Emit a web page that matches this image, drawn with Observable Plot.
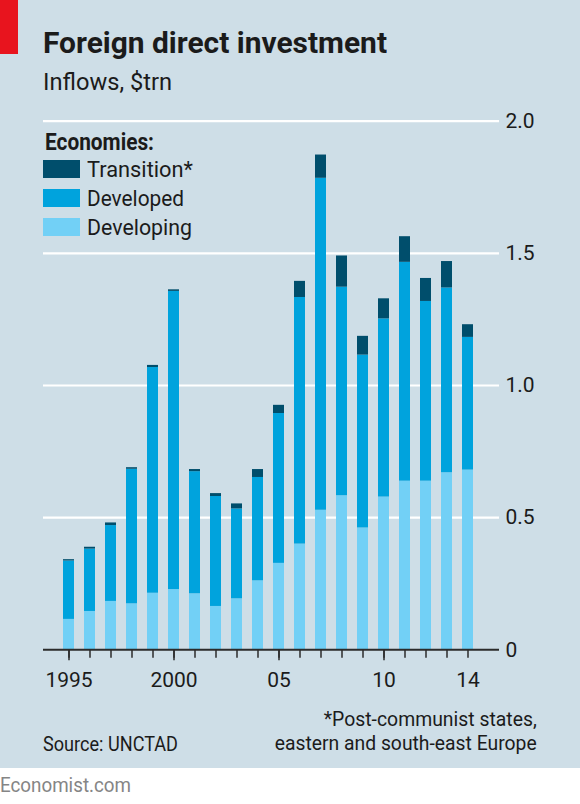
<!DOCTYPE html>
<html>
<head>
<meta charset="utf-8">
<script src="https://cdn.jsdelivr.net/npm/d3@7"></script>
<script src="https://cdn.jsdelivr.net/npm/@observablehq/plot@0.6"></script>
<style>
  html, body { margin: 0; padding: 0; background: #ffffff; }
  #page { position: relative; width: 580px; height: 804px; overflow: hidden; background: #ffffff; font-family: Roboto, "Noto Sans", sans-serif; color: #1b1b1b; }
  #panel { position: absolute; left: 0; top: 0; width: 580px; height: 768px; background: #cedee7; }
  #redbar { position: absolute; left: 0; top: 0; width: 18px; height: 54px; background: #e8141e; }
  .t { position: absolute; white-space: nowrap; line-height: 1; display: inline-block; }
  .fitL { transform-origin: left top; }
  .fitR { transform-origin: right top; }
  .sw { position: absolute; left: 43px; width: 37px; height: 18px; }
  #chart { position: absolute; left: 0; top: 100px; }
</style>
</head>
<body>
<div id="page">
  <div id="panel"></div>
  <div id="redbar"></div>
  <div class="t fitL" data-w="344" style="left:43px; top:28px; font-size:30px; font-weight:700;">Foreign direct investment</div>
  <div class="t fitL" data-w="129" style="left:43px; top:71px; font-size:23px;">Inflows, $trn</div>
  <div class="t fitL" data-w="109" style="left:45px; top:131px; font-size:23px; font-weight:700;">Economies:</div>
  <div class="sw" style="top:160px; background:#004e6c;"></div>
  <div class="sw" style="top:189px; background:#00a3dd;"></div>
  <div class="sw" style="top:218px; background:#72d0f6;"></div>
  <div class="t fitL" data-w="106" style="left:87px; top:159px; font-size:21.5px;">Transition*</div>
  <div class="t fitL" data-w="97" style="left:87px; top:188px; font-size:21.5px;">Developed</div>
  <div class="t fitL" data-w="105" style="left:87px; top:217px; font-size:21.5px;">Developing</div>
  <div id="chart"></div>
  <div class="t fitL" data-w="135" style="left:43px; top:734px; font-size:21px;">Source: UNCTAD</div>
  <div class="t fitR" data-w="213" style="right:43px; top:709px; font-size:21px;">*Post-communist states,</div>
  <div class="t fitR" data-w="262" style="right:43px; top:733px; font-size:21px;">eastern and south-east Europe</div>
  <div class="t fitL" data-w="131" style="left:0px; top:775px; font-size:21px; color:#858585;">Economist.com</div>
</div>
<script>
const years = [1995, 1996, 1997, 1998, 1999, 2000, 2001, 2002, 2003, 2004,
               2005, 2006, 2007, 2008, 2009, 2010, 2011, 2012, 2013, 2014];
const developing = [0.115, 0.145, 0.183, 0.174, 0.214, 0.228, 0.212, 0.164, 0.193, 0.261,
                    0.327, 0.400, 0.528, 0.583, 0.461, 0.578, 0.638, 0.638, 0.670, 0.680];
const developed  = [0.221, 0.236, 0.287, 0.509, 0.854, 1.128, 0.462, 0.416, 0.340, 0.391,
                    0.567, 0.933, 1.256, 0.789, 0.654, 0.674, 0.828, 0.680, 0.699, 0.502];
const transition = [0.005, 0.007, 0.010, 0.006, 0.008, 0.006, 0.008, 0.011, 0.019, 0.030,
                    0.031, 0.061, 0.088, 0.118, 0.071, 0.076, 0.097, 0.087, 0.100, 0.048];
const seriesNames = ["Developing", "Developed", "Transition*"];
const seriesColors = ["#72d0f6", "#00a3dd", "#004e6c"];
const yTicks = [0, 0.5, 1, 1.5, 2];
const xLabelYears = [1995, 2000, 2005, 2010, 2014];
const xMajorYears = [1995, 2000, 2005, 2010];

const rows = [];
years.forEach((yr, i) => {
  rows.push({year: yr, series: seriesNames[0], value: developing[i]});
  rows.push({year: yr, series: seriesNames[1], value: developed[i]});
  rows.push({year: yr, series: seriesNames[2], value: transition[i]});
});

const gridInset = {insetLeft: -5.7, insetRight: -10.7};

const chart = Plot.plot({
  width: 580,
  height: 600,
  marginTop: 20.7,
  marginBottom: 50.7,
  marginLeft: 48.7,
  marginRight: 91.7,
  style: {background: "transparent", fontFamily: "Roboto, 'Noto Sans', sans-serif", color: "#1b1b1b", overflow: "visible"},
  x: {type: "band", domain: years, padding: 0.47, label: null},
  y: {domain: [0, 2], label: null},
  color: {domain: seriesNames, range: seriesColors},
  marks: [
    Plot.ruleY(yTicks.filter(d => d > 0), {stroke: "#ffffff", strokeWidth: 2.2, ...gridInset}),
    Plot.barY(rows, {x: "year", y: "value", fill: "series", order: seriesNames}),
    Plot.ruleY([0], {stroke: "#2b2b2b", strokeWidth: 2, ...gridInset}),
    Plot.axisX({ticks: years, tickSize: 8.5, tickFormat: () => "", label: null, stroke: "#2b2b2b", strokeWidth: 1.5}),
    Plot.axisX({ticks: xMajorYears, tickSize: 11, tickFormat: () => "", label: null, stroke: "#2b2b2b", strokeWidth: 1.5}),
    Plot.axisX({ticks: xLabelYears, tickSize: 0, tickPadding: 22, fontSize: 21, label: null,
      tickFormat: d => (d === 1995 || d === 2000) ? String(d) : String(d).slice(2)}),
    Plot.axisY({anchor: "right", ticks: yTicks, tickSize: 0, tickPadding: 16.7, fontSize: 21, label: null,
      tickFormat: d => d === 0 ? "0" : d.toFixed(1)})
  ]
});
document.getElementById("chart").appendChild(chart);

document.querySelectorAll(".t[data-w]").forEach(el => {
  const w = el.getBoundingClientRect().width;
  const target = +el.dataset.w;
  if (w > 0) el.style.transform = `scaleX(${target / w})`;
});
</script>
</body>
</html>
